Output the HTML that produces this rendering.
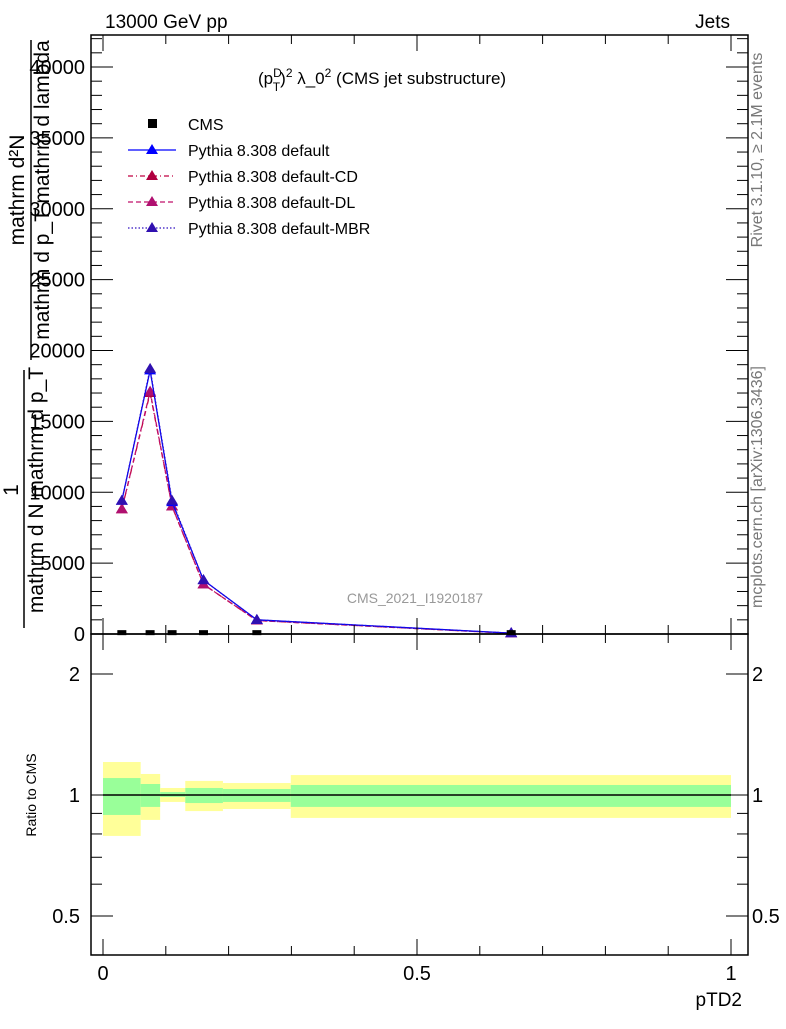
<!DOCTYPE html>
<html><head><meta charset="utf-8"><style>
body{margin:0;background:#fff}
svg text{font-family:"Liberation Sans",sans-serif}
</style></head><body>
<svg id="c" width="786" height="1024" xmlns="http://www.w3.org/2000/svg">
<g id="bands"></g>
<g id="marks"></g>
<g id="axes"></g>
<rect x="91" y="35" width="657" height="599" fill="none" stroke="#000" stroke-width="1.5"/>
<rect x="91" y="634" width="657" height="321" fill="none" stroke="#000" stroke-width="1.5"/>
<text x="105" y="28" font-size="19">13000 GeV pp</text>
<text x="730" y="28" font-size="19" text-anchor="end">Jets</text>
<text x="258" y="84" font-size="17">(p<tspan font-size="12" dy="-7">D</tspan><tspan font-size="12" dx="-9" dy="14">T</tspan><tspan dy="-7">)</tspan><tspan font-size="12" dy="-7">2</tspan><tspan dy="7"> λ_0</tspan><tspan font-size="12" dy="-7">2</tspan><tspan dy="7"> (CMS jet substructure)</tspan></text>
<text x="415" y="603" font-size="14" fill="#999" text-anchor="middle">CMS_2021_I1920187</text>
<text transform="translate(762,150) rotate(-90)" font-size="16" fill="#777" text-anchor="middle">Rivet 3.1.10, ≥ 2.1M events</text>
<text transform="translate(762,487) rotate(-90)" font-size="16" fill="#777" text-anchor="middle">mcplots.cern.ch [arXiv:1306.3436]</text>
<g font-size="21">
<text transform="translate(24,190) rotate(-90)" text-anchor="middle">mathrm d²N</text>
<line x1="31" y1="40" x2="31" y2="360" stroke="#000" stroke-width="1.5"/>
<text transform="translate(49,190) rotate(-90)" text-anchor="middle">mathrm d p_T mathrm d lambda</text>
<text transform="translate(18,490) rotate(-90)" text-anchor="middle">1</text>
<line x1="24" y1="370" x2="24" y2="628" stroke="#000" stroke-width="1.5"/>
<text transform="translate(43,490) rotate(-90)" text-anchor="middle">mathrm d N mathrm d p_T</text>
</g>
<text transform="translate(36,795) rotate(-90)" font-size="14" text-anchor="middle">Ratio to CMS</text>
<text x="742" y="1006" font-size="19" text-anchor="end">pTD2</text>
<g font-size="16">
<rect x="148" y="119" width="9" height="9" fill="#000"/>
<text x="188" y="130">CMS</text>
<line x1="128" y1="150" x2="176" y2="150" stroke="#00f" stroke-width="1.3"/><polygon points="152,144 146,154 158,154" fill="#00f"/>
<text x="188" y="156">Pythia 8.308 default</text>
<line x1="128" y1="176" x2="176" y2="176" stroke="#c00040" stroke-width="1.3" stroke-dasharray="5,3,1,3"/><polygon points="152,170 146,180 158,180" fill="#b00040"/>
<text x="188" y="182">Pythia 8.308 default-CD</text>
<line x1="128" y1="202" x2="176" y2="202" stroke="#c0106a" stroke-width="1.3" stroke-dasharray="5,3"/><polygon points="152,196 146,206 158,206" fill="#b01070"/>
<text x="188" y="208">Pythia 8.308 default-DL</text>
<line x1="128" y1="228" x2="176" y2="228" stroke="#3010c0" stroke-width="1.3" stroke-dasharray="1.5,2"/><polygon points="152,222 146,232 158,232" fill="#3010b0"/>
<text x="188" y="234">Pythia 8.308 default-MBR</text>
</g>
</svg>
<script>
const xCenters=[0.03,0.075,0.11,0.16,0.245,0.65];
const binEdges=[0,0.06,0.091,0.131,0.191,0.299,1.0];
const cmsValues=[60,60,60,60,60,60];
const defaultValues=[9400,18600,9300,3800,1000,60];
const cdValues=[8800,17000,9000,3500,950,50];
const dlValues=[8800,17100,9000,3500,950,50];
const mbrValues=[9400,18700,9400,3800,1000,60];
const yellowUp=[1.208,1.128,1.041,1.084,1.071,1.121];
const yellowLo=[0.791,0.867,0.961,0.912,0.923,0.877];
const greenUp=[1.102,1.065,1.017,1.041,1.035,1.059];
const greenLo=[0.892,0.934,0.989,0.955,0.961,0.934];
const yTicks=[0,5000,10000,15000,20000,25000,30000,35000,40000];
const yTickLabels=["0","5000","10000","15000","20000","25000","30000","35000","40000"];
const xTicks=[0,0.5,1];
const xTickLabels=["0","0.5","1"];
const rTicks=[0.5,1,2];
const rTickLabels=["0.5","1","2"];

const NS="http://www.w3.org/2000/svg";
const X=v=>103+v*628;
const Y=v=>634-v*567/40000;
const R=r=>795-121*Math.log2(r);
function mk(p,tag,a){const e=document.createElementNS(NS,tag);for(const k in a)e.setAttribute(k,a[k]);p.appendChild(e);return e;}
const bands=document.getElementById('bands'),marks=document.getElementById('marks'),axes=document.getElementById('axes');
for(let i=0;i<xCenters.length;i++){
  const x0=X(binEdges[i]),x1=X(binEdges[i+1]);
  let r=mk(bands,'rect',{x:x0,y:R(yellowUp[i]),width:x1-x0,height:R(yellowLo[i])-R(yellowUp[i]),fill:'#ffff99'});
  
  
  r=mk(bands,'rect',{x:x0,y:R(greenUp[i]),width:x1-x0,height:R(greenLo[i])-R(greenUp[i]),fill:'#99ff99'});
  
  
}
let l=mk(marks,'line',{x1:X(0),x2:X(1),y1:R(1),y2:R(1),stroke:'#000','stroke-width':1.5});


const series=[[cdValues,'#c00040','5,3,1,3','#b00040','cd'],[dlValues,'#c0106a','5,3','#b01070','dl'],[defaultValues,'#00f','','#00f','default'],[mbrValues,'#3010c0','1.5,2','#3010b0','mbr']];
series.forEach(s=>{
  const pts=s[0].map((v,i)=>X(xCenters[i])+','+Y(v)).join(' ');
  const p=mk(marks,'polyline',{points:pts,fill:'none',stroke:s[1],'stroke-width':1.3,'stroke-dasharray':s[2]});
  
  
  s[0].forEach((v,i)=>{const x=X(xCenters[i]),y=Y(v);
    const t=mk(marks,'polygon',{points:`${x},${y-6} ${x-6},${y+4} ${x+6},${y+4}`,fill:s[3]});
    
    });
});
cmsValues.forEach((v,i)=>{
  const r=mk(marks,'rect',{x:X(xCenters[i])-4.5,y:Y(v)-3,width:9,height:5,fill:'#000'});
  
  
});
for(let v=0;v<=42000;v+=1000){const y=Y(v),maj=v%5000==0;
  mk(axes,'line',{x1:91,x2:91+(maj?22:11),y1:y,y2:y,stroke:'#000'});
  mk(axes,'line',{x1:748,x2:748-(maj?22:11),y1:y,y2:y,stroke:'#000'});}
yTicks.forEach((v,i)=>{const t=mk(axes,'text',{x:85,y:Y(v)+7,'font-size':20,'text-anchor':'end'});t.textContent=yTickLabels[i];
  
  });
for(let k=0;k<=10;k++){const v=k/10,x=X(v),maj=k%5==0;
  [[35,1],[634,-1],[634,1],[955,-1]].forEach(([y0,d])=>mk(axes,'line',{x1:x,x2:x,y1:y0,y2:y0+d*(maj?16:9),stroke:'#000'}));}
xTicks.forEach((v,i)=>{const t=mk(axes,'text',{x:X(v),y:980,'font-size':20,'text-anchor':'middle'});t.textContent=xTickLabels[i];
  
  });
[0.4,0.5,0.6,0.7,0.8,0.9,1,2].forEach(v=>{const y=R(v),maj=(v==0.5||v==1||v==2);
  mk(axes,'line',{x1:91,x2:91+(maj?22:11),y1:y,y2:y,stroke:'#000'});
  mk(axes,'line',{x1:748,x2:748-(maj?22:11),y1:y,y2:y,stroke:'#000'});});
rTicks.forEach((v,i)=>{
  let t=mk(axes,'text',{x:80,y:R(v)+7,'font-size':20,'text-anchor':'end'});t.textContent=rTickLabels[i];
  
  
  t=mk(axes,'text',{x:752,y:R(v)+7,'font-size':20});t.textContent=rTickLabels[i];
  
  });
</script>
</body></html>
